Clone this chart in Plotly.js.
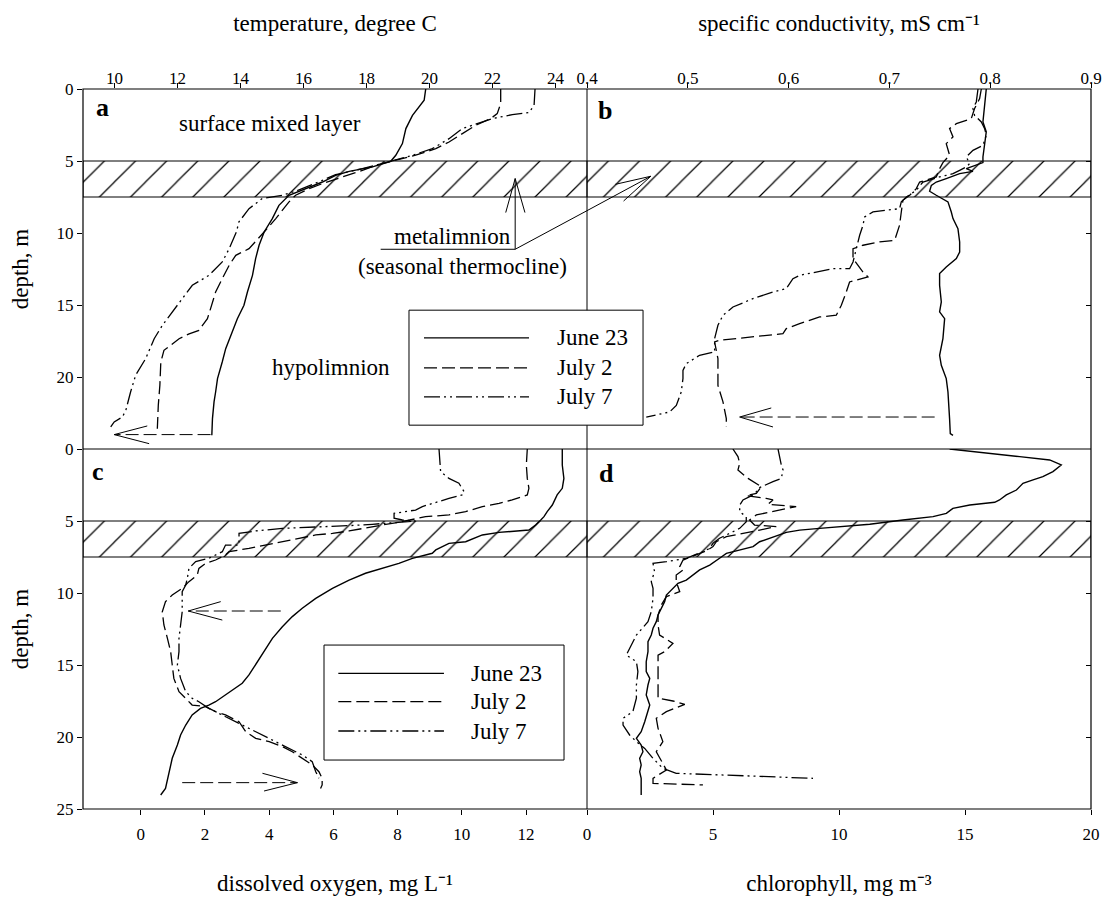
<!DOCTYPE html>
<html><head><meta charset="utf-8">
<script src="https://cdn.plot.ly/plotly-3.0.1.min.js"></script>
<style>html,body{margin:0;padding:0;background:#fff}#chart{width:1107px;height:900px}</style>
</head><body><div id="chart"></div>
<script>
// ---------- series / labels ----------
const seriesNames = ["June 23", "July 2", "July 7"];
const panelLetters = ["a", "b", "c", "d"];

// axes
const tempRange = [9, 25];
const tempTicks = [10, 12, 14, 16, 18, 20, 22, 24];
const condRange = [0.4, 0.9];
const condTicks = [0.4, 0.5, 0.6, 0.7, 0.8, 0.9];
const oxyRange = [-1.8, 13.9];
const oxyTicks = [0, 2, 4, 6, 8, 10, 12];
const chlRange = [0, 20];
const chlTicks = [0, 5, 10, 15, 20];
const depthRange = [25, 0];
const depthTicksTop = [0, 5, 10, 15, 20];
const depthTicksBottom = [0, 5, 10, 15, 20, 25];
const bandDepth = [5, 7.5];   // metalimnion

// panel a: temperature (deg C)
const tempJun23 = [19.88,19.83,19.46,19.25,19.14,18.93,18.77,18.19,17.45,17.02,16.6,15.96,15.54,15.22,15.01,14.75,14.59,14.48,14.38,14.22,14.11,13.9,13.74,13.53,13.42,13.27,13.21,13.16,13.11,13.09];
const tempJun23Depth = [0,0.78,1.83,2.75,3.79,4.6,5.02,5.41,5.72,6.0,6.46,7.03,7.38,8.08,9.0,9.93,10.85,11.78,12.94,14.1,15.02,15.95,16.87,18.03,18.96,20.11,21.04,21.73,22.89,24.05];
const tempJul2 = [22.26,22.26,22.15,21.94,21.47,20.94,20.62,20.2,19.56,19.03,18.72,18.29,17.87,17.23,16.6,16.18,15.75,15.54,15.12,14.75,14.27,13.85,13.64,13.42,13.21,13.05,12.95,12.68,12.37,12.05,11.57,11.47,11.44,11.39,11.36];
const tempJul2Depth = [0,1.02,1.71,2.06,2.52,3.22,3.68,4.14,4.6,4.88,5.07,5.3,5.65,6.11,6.57,6.92,7.38,7.84,9.0,9.93,11.09,11.55,12.24,13.17,14.1,15.25,15.95,16.76,17.0,17.34,18.15,18.96,20.58,21.97,23.59];
const tempJul7 = [23.35,23.32,23.16,22.63,21.99,21.47,21.04,20.62,20.09,19.46,18.72,18.29,17.87,17.45,17.02,16.6,16.18,15.75,15.33,14.69,14.27,13.95,13.87,13.64,13.42,13.0,12.47,12.15,11.84,11.52,11.26,10.99,10.67,10.51,10.36,10.25,9.99,9.88];
const tempJul7Depth = [0,1.13,1.64,1.78,2.06,2.41,2.75,3.45,4.14,4.6,5.07,5.3,5.53,5.72,5.95,6.34,6.69,7.1,7.38,7.61,8.31,9.23,9.93,11.09,12.01,12.94,13.63,14.56,15.48,16.41,17.34,18.72,19.88,21.04,22.31,22.78,23.12,23.47];

// panel b: specific conductivity (mS/cm)
const condJun23 = [0.7961,0.7945,0.7928,0.7961,0.7945,0.7928,0.7928,0.7845,0.7763,0.7829,0.7697,0.7564,0.7465,0.7416,0.7399,0.7465,0.7581,0.7614,0.7631,0.768,0.7697,0.7697,0.7664,0.7564,0.7498,0.7498,0.7515,0.7498,0.7548,0.7531,0.7498,0.7515,0.7564,0.7581,0.7591,0.7597,0.7604,0.7631];
const condJun23Depth = [0,1.13,2.29,2.98,3.79,4.72,5.11,5.3,5.53,5.72,5.88,6.22,6.46,6.69,7.1,7.38,7.84,8.54,9.0,9.7,10.62,11.32,11.78,12.36,12.82,13.63,14.79,15.48,15.95,17.34,18.49,19.19,20.11,21.04,21.97,22.89,23.93,24.05];
const condJul2 = [0.7912,0.7895,0.7845,0.7812,0.7664,0.7597,0.7631,0.7564,0.7597,0.7531,0.7498,0.7465,0.73,0.7267,0.7201,0.7134,0.7118,0.7101,0.7052,0.6903,0.6738,0.6639,0.6639,0.6738,0.6787,0.6672,0.6605,0.6572,0.6523,0.6473,0.6308,0.6109,0.5977,0.5944,0.5646,0.5316,0.5266,0.5299,0.5299,0.5349,0.5382,0.5382];
const condJul2Depth = [0,0.67,1.36,2.06,2.41,2.75,3.33,3.79,4.6,5.11,5.53,6.11,6.46,6.92,7.38,7.73,8.54,9.46,10.51,10.62,10.85,11.09,11.78,12.71,13.05,13.28,13.4,14.1,15.02,15.71,15.83,16.29,16.64,16.99,17.22,17.45,17.57,18.72,20.58,21.73,22.89,23.47];
const condJul7 = [0.7879,0.7862,0.7829,0.7845,0.7912,0.7945,0.7961,0.7928,0.7829,0.7763,0.7796,0.7763,0.7697,0.7631,0.7498,0.7333,0.7267,0.7168,0.7118,0.7101,0.6969,0.6837,0.6754,0.6738,0.6705,0.6672,0.6639,0.6605,0.644,0.6109,0.6043,0.5977,0.5845,0.5646,0.5448,0.5349,0.5299,0.5266,0.5266,0.5117,0.4985,0.4952,0.4952,0.4935,0.4886,0.482,0.4588];
const condJul7Depth = [0,0.9,1.36,1.83,2.29,2.75,3.22,3.91,4.26,4.72,5.18,5.41,5.65,5.88,6.11,6.46,7.03,7.5,7.84,8.31,8.42,8.54,8.89,9.46,10.16,11.09,12.01,12.48,12.48,12.94,13.17,13.86,14.1,14.56,15.14,15.71,16.41,17.34,18.26,18.49,19.07,19.54,20.11,21.04,21.97,22.43,22.78];

// panel c: dissolved oxygen (mg/L)
const oxyJun23 = [13.13,13.13,13.18,13.13,12.97,12.82,12.66,12.56,12.46,12.3,12.09,11.68,11.16,10.64,10.12,9.6,9.19,9.08,8.46,8.04,7.52,7.0,6.49,5.97,5.45,5.03,4.72,4.41,4.1,3.84,3.58,3.37,3.16,2.85,2.54,2.33,2.12,1.86,1.6,1.4,1.24,1.14,0.98,0.88,0.77,0.62];
const oxyJun23Depth = [0,1.11,2.04,2.73,3.19,3.89,4.35,4.7,4.93,5.28,5.63,5.69,5.79,5.97,6.44,6.55,7.01,7.24,7.59,7.94,8.29,8.63,9.1,9.68,10.37,11.06,11.64,12.34,13.15,14.07,15.0,15.69,16.27,16.74,17.2,17.55,17.78,18.01,18.47,19.17,19.86,20.56,21.48,22.41,23.57,24.03];
const oxyJul2 = [12.04,12.01,12.04,12.09,12.04,11.57,11.16,10.64,10.12,9.6,8.87,8.56,8.04,7.52,7.0,6.49,5.97,5.45,4.93,4.41,3.89,3.37,2.75,2.64,2.33,2.02,1.81,1.76,1.5,1.29,0.98,0.77,0.67,0.72,0.83,0.93,0.98,1.03,1.19,1.4,1.6,2.02,2.33,2.64,3.06,3.27,3.58,4.0,4.41,4.72,5.03,5.34,5.55,5.65,5.65,5.6];
const oxyJul2Depth = [0,1.11,2.04,2.73,3.19,3.54,3.77,4.0,4.35,4.58,4.7,4.86,5.09,5.28,5.51,5.69,5.86,5.97,6.2,6.44,6.67,6.9,7.13,7.36,7.71,7.94,8.29,8.75,9.21,9.68,10.14,10.6,11.3,12.22,13.15,14.07,15.0,15.93,16.85,17.31,17.78,17.89,18.24,18.47,18.94,19.63,20.09,20.32,20.67,21.02,21.48,21.94,22.41,22.87,23.33,23.57];
const oxyJul7 = [9.29,9.34,9.6,9.91,10.07,10.02,9.6,9.08,8.77,8.56,8.15,7.89,7.89,8.15,8.56,7.73,7.21,6.49,5.45,4.41,3.58,3.06,3.06,2.64,2.54,2.12,1.71,1.5,1.45,1.4,1.29,1.29,1.29,1.24,1.19,1.19,1.14,1.24,1.4,1.6,1.81,2.12,2.54,2.95,3.37,3.79,4.2,4.62,5.03,5.34,5.45,5.55];
const oxyJul7Depth = [0,1.57,2.04,2.38,2.96,3.19,3.43,3.77,4.0,4.24,4.35,4.47,4.81,4.93,5.0,5.16,5.23,5.32,5.39,5.51,5.69,5.86,6.67,6.67,7.13,7.59,7.82,8.29,8.98,9.44,9.91,10.6,11.3,12.22,13.15,14.07,15.0,15.93,16.85,17.31,17.55,18.01,18.47,18.94,19.4,19.86,20.32,20.79,21.25,21.71,22.41,22.87];

// panel d: chlorophyll (mg/m3)
const chlJun23 = [14.39,15.84,17.17,18.36,18.82,18.49,18.09,17.7,17.3,17.04,16.64,16.37,16.18,15.19,14.52,14.26,13.73,12.54,11.22,9.23,8.44,7.91,7.38,6.85,6.59,5.53,5.26,4.87,4.47,4.2,3.94,3.61,3.41,3.15,3.08,2.95,2.82,2.75,2.62,2.55,2.42,2.42,2.35,2.35,2.49,2.42,2.35,2.49,2.42,2.29,2.15,1.96,2.15,2.22,2.09,2.15,2.09,2.15,2.15];
const chlJun23Depth = [0,0.3,0.53,0.76,1.11,1.57,1.92,2.15,2.38,2.85,3.19,3.54,3.7,3.89,4.12,4.47,4.7,4.93,5.23,5.51,5.63,5.79,6.09,6.44,6.78,7.25,7.59,8.06,8.4,8.75,9.1,9.33,9.68,10.14,10.6,11.06,11.53,11.99,12.45,12.92,13.38,14.07,14.77,15.46,15.93,16.39,17.08,17.78,18.24,18.94,19.63,20.09,20.56,21.02,21.48,21.94,22.41,22.87,24.03];
const chlJul2 = [5.79,5.99,6.06,5.99,6.39,6.92,6.72,6.32,7.11,7.38,7.18,8.3,6.72,6.45,6.65,7.51,6.85,6.19,5.53,5.13,5.0,4.73,4.34,3.81,3.68,3.81,3.54,3.54,3.68,3.15,2.95,2.82,2.82,2.88,3.41,3.08,2.82,2.82,2.82,3.41,3.88,3.15,2.75,2.82,3.01,2.75,2.95,3.15,2.62,2.62,4.6];
const chlJul2Depth = [0,0.53,0.99,1.46,2.04,2.62,3.08,3.24,3.43,3.54,3.84,4.0,4.58,4.93,5.28,5.39,5.63,5.86,6.09,6.44,6.78,7.08,7.36,7.71,8.17,8.4,8.75,9.21,9.91,10.25,10.83,11.53,12.22,12.92,13.5,14.07,14.31,15.93,17.31,17.5,17.73,18.24,18.7,19.4,20.32,21.02,21.71,22.29,22.87,23.22,23.33];
const chlJul7 = [7.58,7.64,7.71,7.78,7.71,7.38,7.11,6.85,6.72,6.59,6.19,6.06,6.06,6.32,6.32,6.06,5.66,5.26,5.0,4.87,4.6,3.94,3.15,2.62,2.68,2.55,2.62,2.62,2.55,2.42,1.96,1.69,1.56,1.96,2.02,1.96,1.96,1.82,1.43,1.43,1.69,1.96,2.29,2.62,3.01,3.54,5.26,7.25,8.97];
const chlJul7Depth = [0,0.65,1.11,1.46,2.04,2.27,2.5,2.68,2.96,3.19,3.54,3.89,4.35,4.7,5.05,5.51,5.86,6.2,6.55,6.9,7.13,7.59,7.82,7.94,8.52,9.21,9.68,10.37,11.3,11.99,12.92,13.84,14.31,14.77,15.46,16.39,17.31,18.24,18.7,19.17,19.86,20.32,20.79,21.48,22.18,22.52,22.64,22.8,22.87];

// ---------- styling ----------
const FONT = "Liberation Serif, Times New Roman, serif";
const INK = "#000000";
const dashes = ["solid", "13px,5px", "16px,4px,2px,4px,2px,4px"];
const widths = [1.4, 1.3, 1.3];

function curve(x, y, i, xa, ya) {
  return {type: "scatter", mode: "lines", x: x, y: y, xaxis: xa, yaxis: ya,
    name: seriesNames[i], showlegend: false, hoverinfo: "skip",
    line: {color: INK, width: widths[i], dash: dashes[i]}};
}
function band(range, xa, ya) {
  return {type: "scatter", mode: "lines", xaxis: xa, yaxis: ya, showlegend: false, hoverinfo: "skip",
    x: [range[0], range[1], range[1], range[0], range[0]],
    y: [bandDepth[0], bandDepth[0], bandDepth[1], bandDepth[1], bandDepth[0]],
    fill: "toself", fillcolor: "white",
    fillpattern: {shape: "/", size: 22, solidity: 0.055, fgcolor: INK, bgcolor: "white"},
    line: {color: INK, width: 1}};
}

const data = [
  band(tempRange, "x", "y"), band(condRange, "x2", "y2"),
  band(oxyRange, "x3", "y3"), band(chlRange, "x4", "y4"),
  curve(tempJun23, tempJun23Depth, 0, "x", "y"),
  curve(tempJul2, tempJul2Depth, 1, "x", "y"),
  curve(tempJul7, tempJul7Depth, 2, "x", "y"),
  curve(condJun23, condJun23Depth, 0, "x2", "y2"),
  curve(condJul2, condJul2Depth, 1, "x2", "y2"),
  curve(condJul7, condJul7Depth, 2, "x2", "y2"),
  curve(oxyJun23, oxyJun23Depth, 0, "x3", "y3"),
  curve(oxyJul2, oxyJul2Depth, 1, "x3", "y3"),
  curve(oxyJul7, oxyJul7Depth, 2, "x3", "y3"),
  curve(chlJun23, chlJun23Depth, 0, "x4", "y4"),
  curve(chlJul2, chlJul2Depth, 1, "x4", "y4"),
  curve(chlJul7, chlJul7Depth, 2, "x4", "y4")
];

const tickFont = {family: FONT, size: 17, color: INK};
const titleFont = {family: FONT, size: 23, color: INK};
const textFont = {family: FONT, size: 23, color: INK};

function xAxis(domain, anchor, side, range, ticks, title) {
  const top = side === "top";
  return {domain: domain, anchor: anchor, side: side, range: range, tickvals: ticks,
    ticks: "outside", ticklen: 5, tickwidth: 1, tickcolor: INK, tickfont: tickFont,
    ticklabelstandoff: top ? -8 : 5,
    showgrid: false, zeroline: false, showline: false, fixedrange: true,
    title: {text: title, font: titleFont, standoff: top ? 31 : 31}};
}
function yAxis(domain, anchor, side, ticks, labelled) {
  const ax = {domain: domain, anchor: anchor, side: side, range: depthRange, tickvals: ticks,
    ticks: labelled ? "outside" : "inside", ticklen: 5, tickwidth: 1, tickcolor: INK,
    tickfont: tickFont, showticklabels: labelled,
    showgrid: false, zeroline: false, showline: false, fixedrange: true};
  if (labelled) ax.title = {text: "depth, m", font: titleFont, standoff: 21};
  return ax;
}

function seg(ref, x0, y0, x1, y1, dash) {
  return Object.assign({type: "line", x0: x0, y0: y0, x1: x1, y1: y1, layer: "above",
    line: {color: INK, width: 1, dash: dash || "solid"}}, ref);
}
function head(ref, pts) {
  return Object.assign({type: "path", layer: "above",
    path: "M" + pts[0] + "," + pts[1] + "L" + pts[2] + "," + pts[3] + "L" + pts[4] + "," + pts[5],
    line: {color: INK, width: 1}}, ref);
}
const A = {xref: "x", yref: "y"}, B = {xref: "x2", yref: "y2"}, C = {xref: "x3", yref: "y3"};
const P = {xref: "paper", yref: "paper"};

const shapes = [
  // frame
  Object.assign({type: "rect", x0: 0, y0: 0, x1: 1, y1: 1, layer: "above", line: {color: INK, width: 1.2}}, P),
  seg(P, 0.5, 0, 0.5, 1), seg(P, 0, 0.5, 1, 0.5),
  // metalimnion pointers
  seg(A, 18.45, 11.13, 22.72, 11.13), seg(A, 22.72, 11.13, 22.72, 6.22),
  head(A, [22.42, 8.58, 22.72, 6.22, 23.03, 8.58]),
  seg(A, 22.72, 11.13, 25, 8.45), seg(B, 0.4, 8.45, 0.4633, 6.06),
  head(B, [0.4281, 6.62, 0.4633, 6.06, 0.4363, 7.78]),
  // change arrows
  seg(A, 13.05, 24.0, 9.99, 24.0, "13px,5px"), head(A, [11.04, 23.4, 9.99, 24.0, 11.1, 24.63]),
  seg(B, 0.7449, 22.78, 0.5514, 22.78, "13px,5px"), head(B, [0.5828, 22.15, 0.5514, 22.78, 0.5845, 23.47]),
  seg(C, 4.36, 11.25, 1.48, 11.25, "13px,5px"), head(C, [2.49, 10.6, 1.48, 11.25, 2.54, 11.88]),
  seg(C, 1.29, 23.17, 4.88, 23.17, "13px,5px"), head(C, [3.79, 22.52, 4.88, 23.17, 3.84, 23.75])
];

const annotations = [
  {text: "<b>" + panelLetters[0] + "</b>", x: 9.61, y: 1.25, xref: "x", yref: "y"},
  {text: "<b>" + panelLetters[1] + "</b>", x: 0.4175, y: 1.48, xref: "x2", yref: "y2"},
  {text: "<b>" + panelLetters[2] + "</b>", x: -1.34, y: 1.58, xref: "x3", yref: "y3"},
  {text: "<b>" + panelLetters[3] + "</b>", x: 0.754, y: 1.7, xref: "x4", yref: "y4"}
].map(a => Object.assign(a, {showarrow: false, xanchor: "center", yanchor: "middle", font: {family: FONT, size: 26, color: INK}}));

[["surface mixed layer", 14.93, 2.4], ["metalimnion", 20.73, 10.27],
 ["(seasonal thermocline)", 21.04, 12.35], ["hypolimnion", 16.86, 19.35]].forEach(t => {
  annotations.push({text: t[0], x: t[1], y: t[2], xref: "x", yref: "y", showarrow: false,
    xanchor: "center", yanchor: "middle", font: textFont});
});

// legends (one in panel a, one in panel c)
function addLegend(box, lineX, rowsY, textX) {
  shapes.push(Object.assign({type: "rect", x0: box[0], y0: box[1], x1: box[2], y1: box[3], layer: "above",
    fillcolor: "white", line: {color: INK, width: 1}}, P));
  seriesNames.forEach((name, i) => {
    shapes.push(Object.assign({type: "line", x0: lineX[0], x1: lineX[1], y0: rowsY[i], y1: rowsY[i], layer: "above",
      line: {color: INK, width: widths[i], dash: dashes[i]}}, P));
    annotations.push({text: name, x: textX, y: rowsY[i], xref: "paper", yref: "paper", showarrow: false,
      xanchor: "left", yanchor: "middle", font: textFont});
  });
}
addLegend([0.3234, 0.5331, 0.5556, 0.6928], [0.3383, 0.4425], [0.6543, 0.6127, 0.5724], 0.4683);
addLegend([0.2391, 0.068, 0.4772, 0.2277], [0.2533, 0.3581], [0.1884, 0.149, 0.1083], 0.3829);

const layout = {
  width: 1107, height: 900,
  margin: {l: 82.7, r: 16.3, t: 88.7, b: 91, pad: 0},
  paper_bgcolor: "white", plot_bgcolor: "white", showlegend: false,
  font: {family: FONT, color: INK},
  xaxis: xAxis([0, 0.5], "y", "top", tempRange, tempTicks, "temperature, degree C"),
  xaxis2: xAxis([0.5, 1], "y2", "top", condRange, condTicks, "specific conductivity, mS cm\u207B\u00B9"),
  xaxis3: xAxis([0, 0.5], "y3", "bottom", oxyRange, oxyTicks, "dissolved oxygen, mg L\u207B\u00B9"),
  xaxis4: xAxis([0.5, 1], "y4", "bottom", chlRange, chlTicks, "chlorophyll, mg m\u207B\u00B3"),
  yaxis: yAxis([0.5, 1], "x", "left", depthTicksTop, true),
  yaxis2: yAxis([0.5, 1], "x2", "right", depthTicksBottom, false),
  yaxis3: yAxis([0, 0.5], "x3", "left", depthTicksBottom, true),
  yaxis4: yAxis([0, 0.5], "x4", "right", depthTicksBottom, false),
  shapes: shapes,
  annotations: annotations
};

Plotly.newPlot("chart", data, layout, {staticPlot: true, displayModeBar: false});
</script>
</body></html>
